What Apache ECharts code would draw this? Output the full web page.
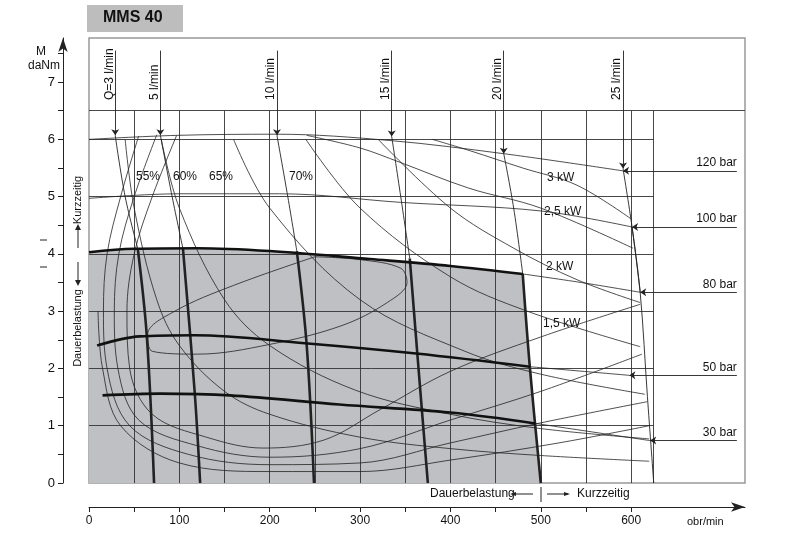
<!DOCTYPE html>
<html><head><meta charset="utf-8">
<script src="https://cdn.jsdelivr.net/npm/echarts@6/dist/echarts.min.js"></script>
<style>html,body{margin:0;background:#fff}#c{width:800px;height:546px}</style>
</head><body><div id="c"></div>
<script>
// axis ticks
var xTickValues = [0,50,100,150,200,250,300,350,400,450,500,550,600];
var xLabelValues = [0,100,200,300,400,500,600];
var yTickValues = [0,0.5,1,1.5,2,2.5,3,3.5,4,4.5,5,5.5,6,6.5,7,7.5];
var yLabelValues = [0,1,2,3,4,5,6,7];
var gridRpm = [50,100,150,200,250,300,350,400,450,500,550,600,625];
var gridM = [1,2,3,4,5,6];

// continuous duty area (80 bar top boundary + 20 l/min right edge)
var dauerArea = [[0,4.03],[50,4.09],[120,4.1],[200,4.05],[311,3.91],[400,3.79],[480,3.65],[488,2.0],[500,0]];

// pressure lines [n, M]
var p120 = [[0,6.0],[97,6.07],[208,6.09],[333,5.98],[459,5.75],[591,5.45]];
var p100 = [[0,4.97],[100,5.05],[211,5.05],[345,4.9],[500,4.75],[601,4.47]];
var p80 = [[480,3.65],[545,3.5],[610,3.33]];
var p50Thick = [[9,2.4],[56,2.56],[117,2.58],[239,2.44],[362,2.26],[488,2.03]];
var p50Thin = [[488,2.03],[598,1.88]];
var p30Thick = [[15,1.53],[79,1.56],[156,1.53],[277,1.37],[400,1.23],[494,1.04]];
var p30Thin = [[494,1.04],[621,0.74]];
var pressLabels = ['120 bar','100 bar','80 bar','50 bar','30 bar'];
var pressArrowPts = [[591,5.45],[601,4.47],[610,3.33],[598,1.88],[621,0.74]];

// flow lines
var q3 = [[29,6.07],[40,5.0],[54,4.09],[64,2.56],[72,0]];
var q5 = [[79,6.07],[92,5.0],[104,4.09],[117,1.58],[123,0]];
var q10 = [[208,6.07],[220,5.0],[230,4.05],[241,2.39],[249,0]];
var q15 = [[335,6.05],[345,5.0],[355,3.92],[363,2.33],[375,0]];
var q20 = [[459,5.75],[470,4.8],[480,3.65],[488,2.0],[500,0]];
var q25 = [[591,5.49],[601,4.47],[610,3.33],[618,1.51],[625,0]];
var flowLabels = ['Q=3 l/min','5 l/min','10 l/min','15 l/min','20 l/min','25 l/min'];

// efficiency contours
var eta75 = [[250,3.95],[300,3.9],[345,3.75],[352,3.5],[330,3.15],[280,2.75],[200,2.42],[120,2.25],[70,2.3],[65,2.6],[95,3.0],[160,3.45],[250,3.95]];
var eta70 = [[97,6.07],[70,5.0],[50,4.0],[42,3.0],[45,2.0],[70,1.2],[130,0.8],[193,0.61],[260,0.75],[322,1.28],[400,1.95],[500,2.55],[610,3.12]];
var eta65 = [[75,6.08],[50,5.0],[33,4.0],[28,3.0],[32,2.0],[55,1.1],[120,0.65],[200,0.45],[300,0.6],[400,1.1],[500,1.6],[612,2.25]];
var eta60 = [[55,6.06],[35,5.0],[20,4.0],[16,3.0],[20,2.0],[45,1.0],[110,0.5],[200,0.32],[300,0.35],[400,0.7],[500,1.05],[618,1.42]];
var eta55 = [[10,3.0],[15,2.0],[35,1.0],[100,0.35],[200,0.2],[300,0.2],[400,0.4],[520,0.7],[620,1.0]];

// power lines
var n3kw = [[380,6.0],[422,5.8],[480,5.5],[540,5.2],[601,4.6]];
var n25kw = [[241,6.07],[300,5.85],[344,5.6],[420,5.15],[500,4.8],[602,4.1]];
var n2kw = [[320,6.0],[400,4.8],[470,4.1],[540,3.55],[610,3.15]];
var n15kw = [[240,6.0],[300,4.8],[400,3.6],[485,3.0],[610,2.38]];
var n1kw = [[160,6.0],[200,4.8],[300,3.2],[416,2.3],[500,1.9],[615,1.55]];
var n05kw = [[80,6.0],[100,4.8],[150,3.2],[200,2.4],[295,1.62],[400,1.2],[500,0.95],[620,0.77]];
var n025kw = [[40,6.0],[50,4.8],[75,3.2],[100,2.4],[150,1.6],[200,1.2],[300,0.8],[400,0.6],[500,0.48],[620,0.38]];

var chart = echarts.init(document.getElementById('c'));

function thin(data, w, c) {
  return {type:'line', data:data, smooth:0.35, symbol:'none', silent:true,
    lineStyle:{color:c||'#222', width:w||0.8}};
}
var segs = [];
gridRpm.forEach(function(n){ segs.push({coords:[[n,0],[n,6.5]]}); });
gridM.forEach(function(m){ segs.push({coords:[[0,m],[625,m]]}); });
segs.push({coords:[[0,6.5],[726,6.5]]});

var series = [
  {type:'line', data:dauerArea, symbol:'none', silent:true, lineStyle:{width:0},
    areaStyle:{color:'#bfc0c3', opacity:1}, z:1},
  {type:'lines', coordinateSystem:'cartesian2d', data:segs, silent:true,
    lineStyle:{color:'#333', width:0.9, opacity:1}, z:2}
];
[eta75,eta70,eta65,eta60,eta55,n3kw,n25kw,n2kw,n15kw,n1kw,n05kw,n025kw,p120,p100,p80,p50Thin,p30Thin]
  .forEach(function(d){ series.push(thin(d)); });
// flow lines: thin above, thick inside area
[q3,q5,q10,q15,q20,q25].forEach(function(q, i){
  series.push(thin(q.slice(0,3), 0.9));
  series.push(thin(i < 5 ? q.slice(2) : q.slice(1), i < 5 ? 2.6 : 0.9));
});
[p50Thick,p30Thick].forEach(function(d){ series.push(thin(d, 2.6, '#111')); });
series.push(thin(dauerArea.slice(0,7), 2.6, '#111'));

// flow arrows from labels
var flowArrows = [q3,q5,q10,q15,q20,q25].map(function(q){
  return {coords:[[q[0][0],7.55],[q[0][0],q[0][1]]]};
});
series.push({type:'lines', coordinateSystem:'cartesian2d', data:flowArrows, silent:true,
  symbol:['none','arrow'], symbolSize:6, lineStyle:{color:'#222', width:0.9, opacity:1}});
// pressure label leaders
var pressLeaders = pressArrowPts.map(function(p){ return {coords:[[p[0],p[1]],[717,p[1]]]}; });
series.push({type:'lines', coordinateSystem:'cartesian2d', data:pressLeaders, silent:true,
  symbol:['arrow','none'], symbolSize:6, lineStyle:{color:'#222', width:0.9, opacity:1}});

var txt = function(x,y,t,extra){
  var s = {type:'text', x:x, y:y, style:{text:t, fill:'#111', font:'12px Liberation Sans'}};
  if (extra) for (var k in extra) s.style[k] = extra[k];
  return s;
};

var option = {
  animation:false,
  grid:{left:89, right:55, top:38, bottom:63, show:true, borderColor:'#999', borderWidth:1.5},
  xAxis:{type:'value', min:0, max:726, offset:24,
    axisLine:{show:true, onZero:false, lineStyle:{color:'#222'}, symbol:['none','arrow'], symbolSize:[7,14]},
    axisTick:{show:true, customValues:xTickValues, length:5, inside:false, lineStyle:{color:'#222'}},
    axisLabel:{customValues:xLabelValues, color:'#111', fontSize:12, fontFamily:'Liberation Sans', margin:8},
    splitLine:{show:false}},
  yAxis:{type:'value', min:0, max:7.77, offset:26,
    axisLine:{show:true, onZero:false, lineStyle:{color:'#222'}, symbol:['none','arrow'], symbolSize:[7,14]},
    axisTick:{show:true, customValues:yTickValues, length:5, lineStyle:{color:'#222'}},
    axisLabel:{customValues:yLabelValues, color:'#111', fontSize:13, fontFamily:'Liberation Sans', margin:8},
    splitLine:{show:false}},
  series:series
};
chart.setOption(option);

var g = [
  {type:'rect', shape:{x:87,y:5,width:96,height:27}, style:{fill:'#bdbdbd'}},
  txt(103,10,'MMS 40',{font:'bold 16px Liberation Sans'}),
  txt(36,46,'M'), txt(28,60,'daNm'),
  txt(136,171,'55%'), txt(173,171,'60%'), txt(209,171,'65%'), txt(289,171,'70%'),
  {type:'text', x:243, y:262, style:{rich:{a:{fontSize:12,fontFamily:'Liberation Sans',fill:'#111'},
    s:{fontSize:8,fontFamily:'Liberation Sans',fill:'#111',padding:[8,0,0,0]}},
    text:'{a|η}{s|t}{a|=7}{s|5}{a|%}'}},
  txt(547,172,'3 kW'), txt(544,206,'2,5 kW'), txt(546,261,'2 kW'), txt(543,318,'1,5 kW'),
  txt(450,342,'1 kW'), txt(336,381,'0,5 kW'), txt(200,376,'N=0,25 kW'),
  {type:'text', x:78, y:200, rotation:Math.PI/2, style:{text:'Kurzzeitig', fill:'#111', font:'11px Liberation Sans', align:'center', verticalAlign:'middle'}},
  {type:'text', x:78, y:328, rotation:Math.PI/2, style:{text:'Dauerbelastung', fill:'#111', font:'11px Liberation Sans', align:'center', verticalAlign:'middle'}},
  {type:'line', shape:{x1:78,y1:248,x2:78,y2:228}, style:{stroke:'#222'}},
  {type:'polygon', shape:{points:[[75,230],[81,230],[78,224]]}, style:{fill:'#222'}},
  {type:'line', shape:{x1:78,y1:262,x2:78,y2:282}, style:{stroke:'#222'}},
  {type:'polygon', shape:{points:[[75,280],[81,280],[78,286]]}, style:{fill:'#222'}},
  {type:'line', shape:{x1:40,y1:240,x2:47,y2:240}, style:{stroke:'#222'}},
  {type:'line', shape:{x1:40,y1:267,x2:47,y2:267}, style:{stroke:'#222'}},
  txt(430,488,'Dauerbelastung'),
  {type:'line', shape:{x1:512,y1:494,x2:533,y2:494}, style:{stroke:'#222'}},
  {type:'polygon', shape:{points:[[510,494],[516,492],[516,496]]}, style:{fill:'#222'}},
  {type:'line', shape:{x1:541,y1:487,x2:541,y2:502}, style:{stroke:'#222'}},
  {type:'line', shape:{x1:547,y1:494,x2:568,y2:494}, style:{stroke:'#222'}},
  {type:'polygon', shape:{points:[[570,494],[564,492],[564,496]]}, style:{fill:'#222'}},
  txt(577,488,'Kurzzeitig'),
  txt(687,516,'obr/min',{font:'11px Liberation Sans'})
];
pressArrowPts.forEach(function(p, i){
  var px = chart.convertToPixel({gridIndex:0}, [717, p[1]]);
  g.push(txt(px[0], px[1]-2, pressLabels[i], {align:'right', verticalAlign:'bottom'}));
});
[q3,q5,q10,q15,q20,q25].forEach(function(q, i){
  var px = chart.convertToPixel({gridIndex:0}, [q[0][0], 6.5]);
  g.push({type:'text', x:px[0]-6, y:100, rotation:Math.PI/2,
    style:{text:flowLabels[i], fill:'#111', font:'12px Liberation Sans', align:'left', verticalAlign:'middle'}});
});
chart.setOption({graphic:g});
</script></body></html>
